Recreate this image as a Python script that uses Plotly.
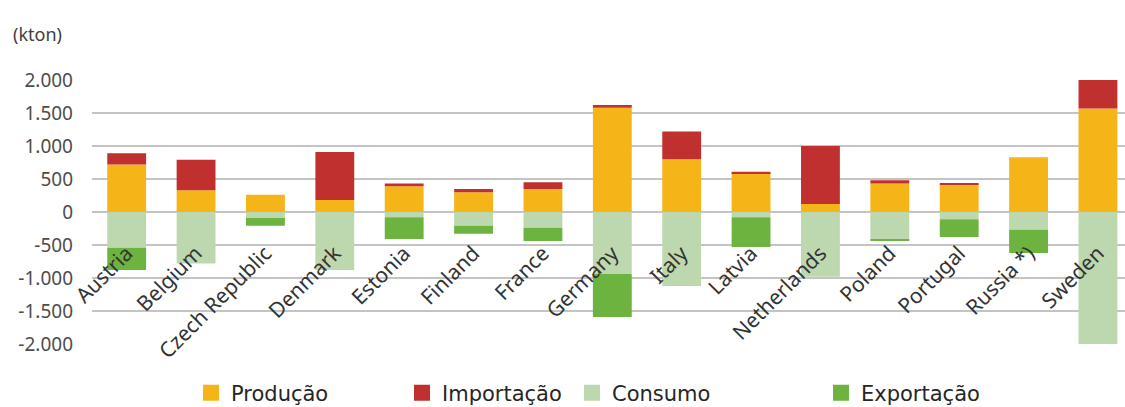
import plotly.graph_objects as go

countries = ["Austria", "Belgium", "Czech Republic", "Denmark", "Estonia", "Finland",
             "France", "Germany", "Italy", "Latvia", "Netherlands", "Poland",
             "Portugal", "Russia *)", "Sweden"]
producao = [720, 330, 260, 180, 390, 300, 350, 1580, 800, 590, 120, 430, 420, 830, 1570]
importacao = [170, 460, 0, 730, 40, 50, 100, 40, 420, 20, 880, 50, 15, 0, 430]
consumo = [-540, -780, -90, -880, -80, -210, -240, -940, -1120, -80, -980, -420, -110, -270, -2000]
exportacao = [-340, 0, -120, 0, -330, -120, -200, -650, 0, -450, 0, -20, -270, -350, 0]

y_tickvals = [2000, 1500, 1000, 500, 0, -500, -1000, -1500, -2000]
y_ticktext = ["2.000", "1.500", "1.000", "500", "0", "-500", "-1.000", "-1.500", "-2.000"]

series = [
    ("Produção", producao, "#F5B417"),
    ("Importação", importacao, "#C0302E"),
    ("Consumo", consumo, "#BDD7AE"),
    ("Exportação", exportacao, "#6CB33F"),
]

W, H = 1125, 407
fig = go.Figure()
for name, vals, col in series:
    fig.add_trace(go.Bar(x=countries, y=vals, name=name, marker=dict(color=col, line=dict(width=0)),
                         showlegend=False))

# legend entries (one legend per entry to match the uneven spacing)
legend_text_x = [232, 443, 613, 862]
legend_keys = ["legend", "legend2", "legend3", "legend4"]
for (name, vals, col), lk in zip(series, legend_keys):
    fig.add_trace(go.Scatter(x=[None], y=[None], mode="markers", name=name,
                             marker=dict(symbol="square", size=16, color=col),
                             legend=lk, showlegend=True))

legend_common = dict(
    orientation="h", xref="container", yref="container", xanchor="left", yanchor="middle",
    y=1 - 393 / H, bgcolor="rgba(0,0,0,0)",
    font=dict(family="DejaVu Sans", size=21, color="#262626"),
)
layout_legends = {}
for lk, tx in zip(legend_keys, legend_text_x):
    layout_legends[lk] = dict(legend_common, x=(tx - 41) / W)

fig.update_layout(
    width=W, height=H,
    margin=dict(l=92, r=0, t=80, b=63, autoexpand=False),
    paper_bgcolor="white", plot_bgcolor="white",
    barmode="relative", bargap=0.44,
    font=dict(family="Noto Sans", color="#404040"),
    title=dict(text="(kton)", x=13 / W, xref="container", xanchor="left",
               y=1 - 35 / H, yref="container", yanchor="middle",
               font=dict(family="Noto Sans", size=18, color="#404040")),
    xaxis=dict(anchor="free", position=0.5, range=[-0.5, 14.39], showgrid=False,
               showline=False, zeroline=False, ticks="", tickangle=-45,
               ticklabelstandoff=24, automargin=False,
               tickfont=dict(family="Noto Sans", size=21, color="#333333")),
    yaxis=dict(range=[-2000, 2000], tickvals=y_tickvals, ticktext=y_ticktext,
               showgrid=True, gridcolor="#C4C4C4", gridwidth=2, zeroline=True,
               zerolinecolor="#C4C4C4", zerolinewidth=2, showline=False, ticks="",
               ticklabelstandoff=18, automargin=False,
               tickfont=dict(family="Noto Sans", size=19, color="#4D4D4D")),
    **layout_legends,
)

fig.write_html("out.html")
